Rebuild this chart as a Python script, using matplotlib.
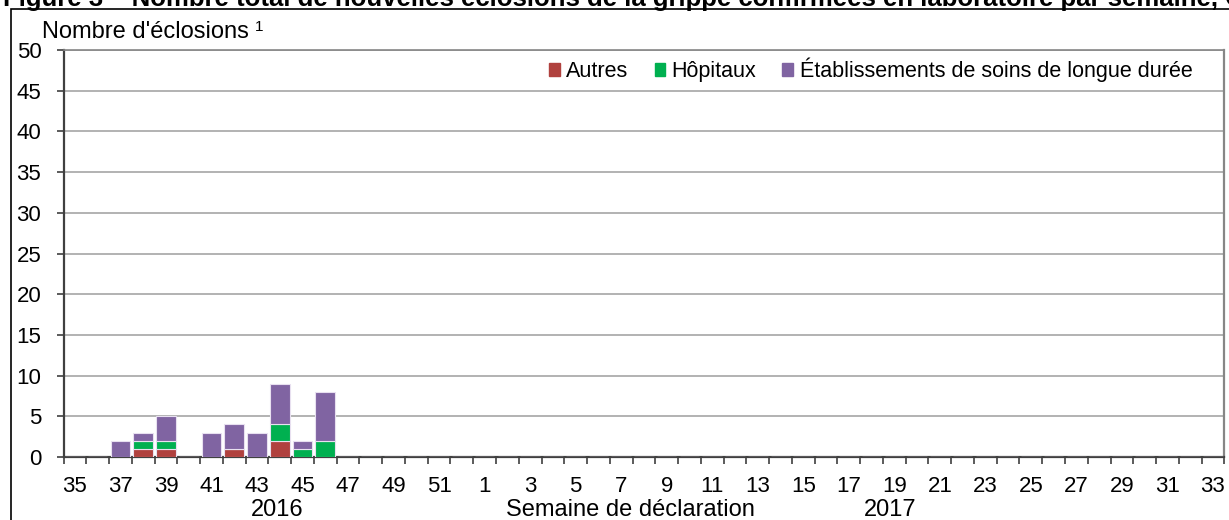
import matplotlib
matplotlib.use("Agg")
import matplotlib.pyplot as plt
from matplotlib.patches import Rectangle, Patch
import numpy as np

plt.rcParams['font.family'] = ['Liberation Sans', 'DejaVu Sans']

weeks = list(range(35, 53)) + list(range(1, 34))
autres = [0, 0, 0, 1, 1, 0, 0, 1, 0, 2, 0, 0] + [0] * 39
hopitaux = [0, 0, 0, 1, 1, 0, 0, 0, 0, 2, 1, 2] + [0] * 39
soins_longue = [0, 0, 2, 1, 3, 0, 3, 3, 3, 5, 1, 6] + [0] * 39
year_labels = ["2016", "2017"]
title = ("Figure 3 – Nombre total de nouvelles éclosions de la grippe confirmées "
         "en laboratoire par semaine, Ontario")

c_aut = '#B0413E'
c_hop = '#00B050'
c_ltc = '#8064A2'

fig = plt.figure(figsize=(12.29, 5.2), dpi=100)
ax = fig.add_axes([0.0517, 0.1212, 0.9445, 0.7826])

x = np.arange(len(weeks))
a = np.array(autres)
h = np.array(hopitaux)
l = np.array(soins_longue)
w = 0.86
ec = '#E8E0F0'
ax.bar(x, a, width=w, color=c_aut, edgecolor=ec, linewidth=0.8, zorder=3)
ax.bar(x, h, width=w, bottom=a, color=c_hop, edgecolor=ec, linewidth=0.8, zorder=3)
ax.bar(x, l, width=w, bottom=a + h, color=c_ltc, edgecolor=ec, linewidth=0.8, zorder=3)

ax.set_xlim(-0.5, len(weeks) - 0.5)
ax.set_ylim(0, 50)
ax.set_yticks(range(0, 51, 5))
ax.yaxis.grid(True, color='#A6A6A6', linewidth=1.2, zorder=0)
ax.tick_params(axis='y', labelsize=16, length=5, width=1.2, direction='out', pad=11,
               color='#404040')

ax.set_xticks(np.arange(-0.5, len(weeks), 1.0))
ax.set_xticklabels([])
ax.tick_params(axis='x', which='major', length=5, width=1.2, direction='out', color='#404040')
ax.set_xticks(x[::2], minor=True)
ax.set_xticklabels([str(wk) for wk in weeks[::2]], minor=True)
ax.tick_params(axis='x', which='minor', length=0, labelsize=16, pad=14)

for s in ['left', 'bottom']:
    ax.spines[s].set_color('#404040')
    ax.spines[s].set_linewidth(1.6)
ax.spines['right'].set_color('#868686')
ax.spines['right'].set_linewidth(1.6)
ax.spines['top'].set_color('#868686')
ax.spines['top'].set_linewidth(1.2)

# year / axis labels
tr = ax.get_xaxis_transform()
ax.text(8.9, -0.13, year_labels[0], transform=tr, ha='center', va='center', fontsize=17)
ax.text(35.8, -0.13, year_labels[1], transform=tr, ha='center', va='center', fontsize=17)
ax.text(24.4, -0.13, "Semaine de déclaration", transform=tr, ha='center', va='center',
        fontsize=17)

ylab = fig.text(42 / 1229, 1 - 32 / 520, "Nombre d'éclosions", fontsize=17,
                ha='left', va='center')
fig.canvas.draw()
bb = ylab.get_window_extent()
fig.text((bb.x1 + 6) / 1229, 1 - 27 / 520, "1", fontsize=11, ha='left', va='center')

handles = [Patch(color=c_aut), Patch(color=c_hop), Patch(color=c_ltc)]
leg = ax.legend(handles, ["Autres", "Hôpitaux", "Établissements de soins de longue durée"],
                loc='center right', bbox_to_anchor=(0.9724, 0.951), ncol=3, frameon=False,
                fontsize=15.5, handlelength=0.5, handleheight=0.5, handletextpad=0.3,
                columnspacing=1.2, borderpad=0, borderaxespad=0)

# outer chart border and clipped title
fig.add_artist(Rectangle((11 / 1229, -0.1), 1.2, 1 - 8.5 / 520 + 0.1,
                         transform=fig.transFigure, fill=False, edgecolor='black',
                         linewidth=1.2))
fig.text(3 / 1229, 1 - 6 / 520, title, fontsize=18.5, fontweight='bold',
         ha='left', va='baseline')

fig.savefig('out.png', dpi=100)
